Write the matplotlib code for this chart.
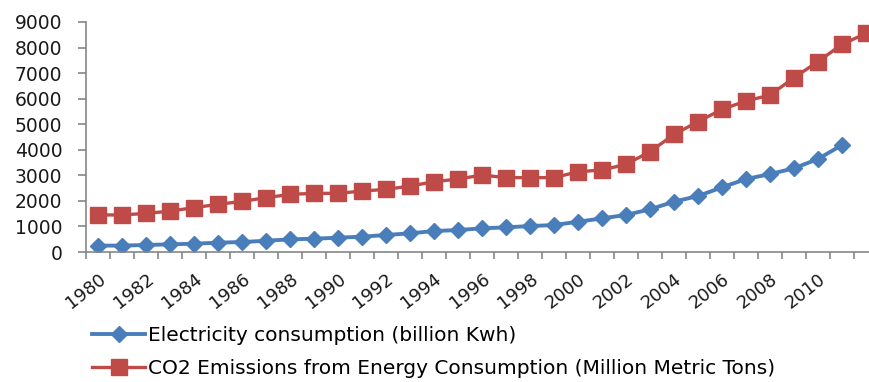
import matplotlib
matplotlib.use('Agg')
import matplotlib.pyplot as plt

# data
years = list(range(1980, 2013))
electricity = [250, 250, 275, 300, 325, 365, 390, 440, 495, 520, 560, 600, 665, 730,
               820, 860, 925, 965, 1015, 1055, 1185, 1315, 1450, 1670, 1970, 2190,
               2530, 2855, 3050, 3275, 3640, 4185]
co2 = [1450, 1450, 1510, 1600, 1735, 1865, 1980, 2125, 2255, 2295, 2295, 2385, 2450,
       2580, 2750, 2855, 3010, 2910, 2910, 2910, 3140, 3210, 3430, 3925, 4600, 5100,
       5580, 5910, 6140, 6820, 7450, 8125, 8555]
tick_years = list(range(1980, 2011, 2))
elec_label = "Electricity consumption (billion Kwh)"
co2_label = "CO2 Emissions from Energy Consumption (Million Metric Tons)"

blue = '#4A7EBB'
red = '#BE4B48'
grey = '#868686'

fig = plt.figure(figsize=(8.69, 3.82), dpi=100)
# plot area runs past the right edge, like the cropped original
ax = fig.add_axes([86 / 869, 130 / 382, 792 / 869, 230 / 382])

ax.plot(years[:len(electricity)], electricity, color=blue, lw=2.8, marker='D',
        ms=8, mec=blue, mfc=blue, label=elec_label)
ax.plot(years, co2, color=red, lw=2.4, marker='s', ms=11.5, mec=red, mfc=red,
        label=co2_label)

ax.set_xlim(1979.5, 2012.5)
ax.set_ylim(0, 9000)
ax.set_yticks(range(0, 9001, 1000))

# category boundaries get the tick marks, labels sit on the categories
ax.set_xticks([y + 0.5 for y in range(1979, 2013)], minor=True)
ax.set_xticks(tick_years)
ax.set_xticklabels([str(y) for y in tick_years], rotation=38, ha='right',
                   va='top', rotation_mode='anchor', fontsize=13, color='#1a1a1a')
ax.tick_params(axis='x', which='major', length=0, pad=13)
ax.tick_params(axis='x', which='minor', length=5, color=grey, width=1.2, direction='out')
ax.tick_params(axis='y', length=6, color=grey, width=1.2, labelsize=13.5,
               labelcolor='#1a1a1a', pad=11)

for side in ['top', 'right']:
    ax.spines[side].set_visible(False)
for side in ['left', 'bottom']:
    ax.spines[side].set_color(grey)
    ax.spines[side].set_linewidth(1.2)

fig.legend(loc='upper left', bbox_to_anchor=(92 / 869, 1 - 326 / 382), frameon=False,
           fontsize=14.5, handlelength=2.65, handletextpad=0.15, labelspacing=0.72,
           borderpad=0, borderaxespad=0)

plt.savefig("out.png", dpi=100)
plt.close()
